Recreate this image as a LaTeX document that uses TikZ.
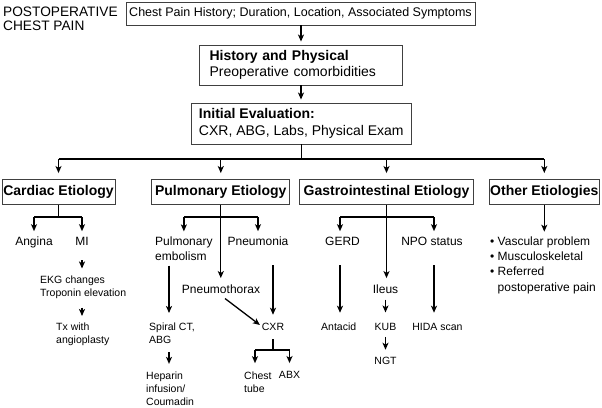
\documentclass[tikz,border=0pt]{standalone}
\usepackage{fontspec}
\setmainfont{Liberation Sans}
\usetikzlibrary{arrows.meta}
\newcommand\fntT{\fontsize{13.7}{14}\selectfont}
\newcommand\fntTop{\fontsize{12.5}{15}\selectfont}
\newcommand\fntBox{\fontsize{14}{16.3}\selectfont}
\newcommand\fntMid{\fontsize{12}{15.3}\selectfont}
\newcommand\fntSm{\fontsize{10.5}{13}\selectfont}
\begin{document}
\begin{tikzpicture}[x=1pt,y=-1pt,
  box/.style={draw=black!75, line width=0.9pt, inner sep=0pt, align=center},
  ln/.style={line width=1.3pt},
  arr/.style={ln, -{Stealth[length=7pt,width=6pt,inset=1.8pt]}},
  mid/.style={font=\fntMid, inner sep=0pt, text height=8.6pt, text depth=0pt},
  midm/.style={font=\fntMid, inner sep=0pt, align=left, anchor=north west},
  sm/.style={font=\fntSm, inner sep=0pt, text height=7.5pt, text depth=0pt},
  smm/.style={font=\fntSm, inner sep=0pt, align=left, anchor=north west},
]
\fill[white] (0,0) rectangle (602,407);
\useasboundingbox (0,0) rectangle (602,407);

% title and top boxes
\node[font=\fntT, align=left, anchor=north west, inner sep=0pt] (title) at (3,6.4) {POSTOPERATIVE\\CHEST PAIN};
\node[box, font=\fntTop, minimum width=349pt, minimum height=23pt] (top) at (300.5,13.5) {Chest Pain History; Duration, Location, Associated Symptoms};
\node[box, font=\fntBox, text width=183pt, inner xsep=10pt, minimum height=40pt, align=left] (hist) at (301,65) {\textbf{History and Physical}\\Preoperative comorbidities};
\node[box, font=\fntBox, minimum width=219.3pt, minimum height=41pt, align=left] (init) at (301.3,123.5) {\textbf{Initial Evaluation:}\\CXR, ABG, Labs, Physical Exam};

% level-1 boxes
\node[box, font=\fntBox\bfseries, minimum width=113pt, minimum height=25pt] (card) at (58.5,192) {Cardiac Etiology};
\node[box, font=\fntBox\bfseries, minimum width=138pt, minimum height=25pt] (pul) at (220.8,192) {Pulmonary Etiology};
\node[box, font=\fntBox\bfseries, minimum width=174pt, minimum height=25pt] (gi) at (386.5,192) {Gastrointestinal Etiology};
\node[box, font=\fntBox\bfseries, minimum width=110pt, minimum height=25pt] (oth) at (544.3,192) {Other Etiologies};

% helper rows / columns
\coordinate (j0) at (301,159);
\coordinate (rC) at (0,217);
\coordinate (rX) at (0,350);
\coordinate (cPE) at (169,0);
\coordinate (cPnL) at (273,0);
\coordinate (cCT) at (255,0);
\coordinate (cG) at (340,0);
\coordinate (cN) at (434,0);

% level-2 labels
\node[mid] (ang) at (34,240.7) {Angina};
\node[mid] (mi) at (82,240.7) {MI};
\node[midm] (pe) at (155,236.4) {Pulmonary\\embolism};
\node[mid] (pn) at (258,240.7) {Pneumonia};
\node[mid] (ptx) at (221,289.3) {Pneumothorax};
\node[mid] (gerd) at (342.5,240.7) {GERD};
\node[mid] (npo) at (432,240.7) {NPO status};
\node[mid] (ileus) at (385.5,289.3) {Ileus};
\node[midm] (list) at (490,236.4) {\textbullet\ Vascular problem\\\textbullet\ Musculoskeletal\\\textbullet\ Referred\\\phantom{\textbullet\ }postoperative pain};

% small labels
\node[smm] (ekg) at (40,275.5) {EKG changes\\Troponin elevation};
\node[smm] (tx) at (56,323) {Tx with\\angioplasty};
\node[smm] (sp) at (149,323) {Spiral CT,\\ABG};
\node[smm] (hep) at (146,371.2) {Heparin\\infusion/\\Coumadin};
\node[sm] (cxr) at (273,327) {CXR};
\node[smm] (ct) at (244,371.2) {Chest\\tube};
\node[sm] (abx) at (289.5,375) {ABX};
\node[sm] (ant) at (338.7,326.7) {Antacid};
\node[sm] (kub) at (385.5,326.7) {KUB};
\node[sm] (ngt) at (385.5,360.7) {NGT};
\node[sm] (hida) at (437.5,326.7) {HIDA scan};

% top edges
\draw[arr, shorten >=3pt] (hist.north |- top.south) -- (hist.north);
\draw[arr, shorten >=3pt] (hist.south) -- (hist.south |- init.north);
\draw[ln] (init.south) -- (init.south |- j0);
\draw[ln] (card.north |- j0) -- (oth.north |- j0);
\foreach \b in {card,pul,gi,oth} \draw[arr, shorten >=6pt] (\b.north |- j0) -- (\b.north);

% cardiac
\draw[ln] (card.south) -- (card.south |- rC);
\draw[ln] (ang.north |- rC) -- (mi.north |- rC);
\draw[arr, shorten >=5pt] (ang.north |- rC) -- (ang.north);
\draw[arr, shorten >=5pt] (mi.north |- rC) -- (mi.north);
\draw[arr, shorten <=15pt, shorten >=7pt] (mi.south) -- (mi.south |- ekg.north);
\draw[arr, shorten <=9pt, shorten >=7pt] (mi.south |- ekg.south) -- (mi.south |- tx.north);

% pulmonary
\draw[arr, shorten >=6.7pt] (pul.south) -- (pul.south |- ptx.north);
\draw[ln] (pe.north |- rC) -- (pn.north |- rC);
\draw[arr, shorten >=5pt] (pe.north |- rC) -- (pe.north);
\draw[arr, shorten >=5pt] (pn.north |- rC) -- (pn.north);
\draw[arr, shorten <=4.7pt, shorten >=10pt] (pe.south -| cPE) -- (sp.north -| cPE);
\draw[arr, shorten <=8pt, shorten >=7.3pt] (sp.south -| cPE) -- (hep.north -| cPE);
\draw[arr, shorten <=20pt, shorten >=8.3pt] (pn.south -| cPnL) -- (cxr.north -| cPnL);
\draw[arr] ([xshift=4pt,yshift=-4.7pt]ptx.south) -- ([xshift=-1.8pt,yshift=2pt]cxr.west);
\draw[ln, shorten <=8.5pt] (cxr.south) -- (cxr.south |- rX);
\draw[ln] (cCT |- rX) -- (abx.north |- rX);
\draw[arr, shorten >=8pt] (cCT |- rX) -- (ct.north -| cCT);
\draw[arr, shorten >=8pt] (abx.north |- rX) -- (abx.north);

% gastrointestinal
\draw[ln] (gi.south) -- (gi.south |- rC);
\draw[ln] (cG |- rC) -- (cN |- rC);
\draw[arr, shorten >=5pt] (cG |- rC) -- (gerd.north -| cG);
\draw[arr, shorten >=5pt] (cN |- rC) -- (npo.north -| cN);
\draw[arr, shorten >=6.7pt] (gi.south) -- (gi.south |- ileus.north);
\draw[arr, shorten <=20pt, shorten >=10pt] (gerd.south -| cG) -- (ant.north -| cG);
\draw[arr, shorten <=5.7pt, shorten >=10.3pt] (ileus.south) -- (kub.north);
\draw[arr, shorten <=6.2pt, shorten >=7pt] (kub.south) -- (ngt.north);
\draw[arr, shorten <=20pt, shorten >=10pt] (npo.south -| cN) -- (hida.north -| cN);

% other
\draw[arr, shorten >=4.7pt] (oth.south) -- (oth.south |- list.north);
\end{tikzpicture}
\end{document}
